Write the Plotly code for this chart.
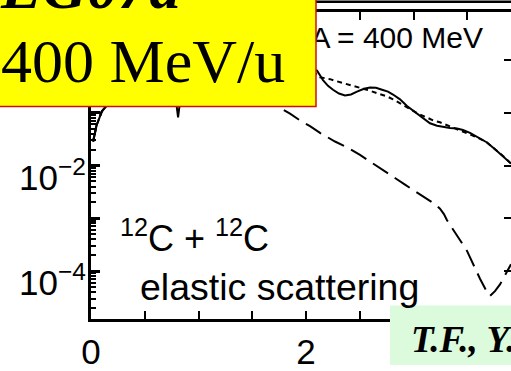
import math
import plotly.graph_objects as go

# ---------------- data ----------------
# scattering angle (deg) and cross sections (log scale)
solid_x = [0.02, 0.05, 0.10, 0.15, 0.20, 0.30, 0.45, 0.60, 0.70, 0.78, 0.81, 0.84,
           0.95, 1.10, 1.30, 1.50, 1.70, 1.90, 2.05,
           2.1023, 2.1581, 2.2047, 2.2512, 2.3070, 2.3628, 2.4186, 2.4744, 2.5395,
           2.5953, 2.6512, 2.7070, 2.7628, 2.8093, 2.8744, 2.9395, 2.9860, 3.0326,
           3.0977, 3.1535, 3.2186, 3.2744, 3.3395, 3.4047, 3.4605, 3.5256, 3.6000,
           3.6837, 3.7581, 3.8326, 3.9070]
solid_y = [0.0285, 0.0562, 0.105, 0.141, 0.398, 1.26, 2.24, 1.58, 0.631, 0.25,
           0.0813, 0.25, 0.794, 1.58, 2.0, 1.78, 1.26, 0.891, 0.708,
           0.631, 0.415, 0.323, 0.273, 0.231, 0.2125, 0.2215, 0.251, 0.2848,
           0.3007, 0.2970, 0.2731, 0.251, 0.2215, 0.1797, 0.1340, 0.1134, 0.0959,
           0.0778, 0.0631, 0.0568, 0.0534, 0.0512, 0.0501, 0.0471, 0.0415, 0.0337,
           0.0273, 0.0204, 0.0152, 0.01088]

dotted_x = [0.02, 0.05, 0.10, 0.15, 0.20, 0.30, 0.45, 0.60, 0.70, 0.78, 0.81, 0.84,
            0.95, 1.10, 1.30, 1.50, 1.70, 1.90, 2.05,
            2.1023, 2.1302, 2.1767, 2.2233, 2.2791, 2.3442, 2.4093, 2.4744, 2.5395,
            2.5953, 2.6698, 2.7535, 2.8093, 2.8744, 2.9209, 2.9674, 3.0419, 3.1256,
            3.1814, 3.2465, 3.3116, 3.3674, 3.4326, 3.4977, 3.6000, 3.6837, 3.7581,
            3.8326, 3.9070]
dotted_y = [0.0285, 0.0562, 0.105, 0.141, 0.398, 1.26, 2.24, 1.58, 0.631, 0.3,
            0.2, 0.3, 0.794, 1.58, 2.0, 1.78, 1.26, 0.891, 0.62,
            0.5337, 0.4708, 0.4515, 0.4329, 0.3981, 0.3662, 0.3368, 0.3097, 0.2848,
            0.2619, 0.2310, 0.2037, 0.1797, 0.1520, 0.1340, 0.1182, 0.0959, 0.0811,
            0.0715, 0.0658, 0.0580, 0.0534, 0.0471, 0.0415, 0.0337, 0.0273, 0.0204,
            0.0152, 0.01088]

dashed_x = [0.02, 0.05, 0.10, 0.15, 0.20, 0.30, 0.45, 0.60, 0.70, 0.78, 0.81, 0.85,
            0.95, 1.10, 1.30, 1.50, 1.65,
            1.7302, 1.8512, 1.9442, 2.0372, 2.1302, 2.2698, 2.3814, 2.5023, 2.6140,
            2.7163, 2.8279, 2.9209, 3.0326, 3.1349, 3.2000, 3.2465, 3.2830, 3.3116,
            3.4047, 3.4977, 3.6186, 3.6744, 3.7116, 3.7581, 3.8047, 3.8512, 3.9070]
dashed_y = [0.0285, 0.0562, 0.105, 0.141, 0.398, 1.26, 2.0, 1.26, 0.5, 0.2,
            0.16, 0.3, 0.8, 1.2, 1.0, 0.5, 0.22,
            0.1340, 0.0959, 0.0715, 0.0557, 0.0415, 0.0285, 0.0222, 0.01585, 0.01134,
            0.00811, 0.00580, 0.00433, 0.00310, 0.00222, 0.00185, 0.00152, 0.00120,
            0.000920, 0.000471, 0.000241, 0.0000715, 0.0000433, 0.0000337,
            0.0000415, 0.0000557, 0.0000811, 0.000134]

x_labelvals = [0, 2]
x_labeltext = ["0", "2"]
x_longvals = [1, 3]
x_minor = [0.5, 1.5, 2.5, 3.5]
y_labelvals = [1e-4, 1e-2]
y_labeltext = ["10<sup>\u22124</sup>", "10<sup>\u22122</sup>"]
y_majorvals = [1e-5, 1e-4, 1e-3, 1e-2, 1e-1, 1e0, 1e1]
energy_label = "E/A = 400 MeV"

# ---------------- geometry helpers ----------------
W, H = 511, 371
L, R, T, B = 91, 0, 12, 39
PW, PH = W - L - R, H - T - B
XR = [0, 3.907]
YR = [-4.909, 0.909]


def px(x):
    return (x - L) / PW


def py(y):
    return (H - B - y) / PH


def data_x(p):
    return XR[0] + (p - L) / PW * (XR[1] - XR[0])


def data_y(p):
    return 10 ** (YR[0] + (H - B - p) / PH * (YR[1] - YR[0]))


y_minor = [m * 10.0 ** e for e in range(-6, 2) for m in range(2, 10)]

fig = go.Figure()
fig.add_trace(go.Scatter(x=dashed_x, y=dashed_y, mode="lines",
                         line=dict(color="black", width=2, dash="18px,8px")))
fig.add_trace(go.Scatter(x=dotted_x, y=dotted_y, mode="lines",
                         line=dict(color="black", width=2, dash="5px,4px")))
fig.add_trace(go.Scatter(x=solid_x, y=solid_y, mode="lines",
                         line=dict(color="black", width=2)))
# energy label lives under the yellow box (traces are drawn below shapes)
fig.add_trace(go.Scatter(x=[data_x(483)], y=[data_y(42)], mode="text", text=[energy_label],
                         textposition="middle left", hoverinfo="skip",
                         textfont=dict(family="Liberation Sans, Arial, sans-serif", size=30,
                                       color="black")))
# carriers for the extra tick axes
for xa, ya in (("x", "y2"), ("x2", "y")):
    fig.add_trace(go.Scatter(x=[1], y=[1e-3], xaxis=xa, yaxis=ya, mode="lines",
                             line=dict(width=0), hoverinfo="skip"))

sans = "Liberation Sans, Arial, sans-serif"
serif = "Liberation Serif, Times New Roman, serif"
axis_font = dict(family=sans, size=35, color="black")

fig.update_layout(
    width=W, height=H,
    margin=dict(l=L, r=R, t=T, b=B, pad=0),
    paper_bgcolor="white", plot_bgcolor="white",
    showlegend=False,
    xaxis=dict(range=XR, showgrid=False, zeroline=False,
               showline=True, linecolor="black", linewidth=2.5, mirror="allticks",
               tickmode="array", tickvals=x_labelvals, ticktext=x_labeltext,
               ticks="inside", ticklen=8, tickwidth=2, tickcolor="black",
               minor=dict(tickmode="array", tickvals=x_minor, ticks="inside", ticklen=5,
                          tickwidth=2, tickcolor="black"),
               tickfont=axis_font),
    xaxis2=dict(range=XR, overlaying="x", anchor="y", side="bottom",
                showgrid=False, zeroline=False, showticklabels=False,
                showline=True, linecolor="black", linewidth=2.5, mirror="allticks",
                tickmode="array", tickvals=x_longvals, ticks="inside", ticklen=8,
                tickwidth=2, tickcolor="black"),
    yaxis=dict(type="log", range=YR, showgrid=False, zeroline=False,
               showline=True, linecolor="black", linewidth=2.5, mirror=False,
               showticklabels=False,
               tickmode="array", tickvals=y_majorvals,
               ticks="inside", ticklen=9, tickwidth=3, tickcolor="black",
               minor=dict(tickmode="array", tickvals=y_minor, ticks="inside", ticklen=5,
                          tickwidth=1.5, tickcolor="black")),
    yaxis2=dict(type="log", range=YR, overlaying="y", side="right", anchor="x",
                showgrid=False, zeroline=False, showline=False, showticklabels=False,
                tickmode="array", tickvals=y_majorvals, ticks="inside", ticklen=7,
                tickwidth=2, tickcolor="black"),
)

shapes = [
    # outer frame line at the very top
    dict(type="line", xref="paper", yref="paper", x0=px(300), x1=px(520), y0=py(1.2), y1=py(1.2),
         line=dict(color="black", width=2.5), layer="above"),
    # yellow title box
    dict(type="rect", xref="paper", yref="paper", x0=px(-5), x1=px(316), y0=py(110.5), y1=py(-5),
         fillcolor="#ffff00", line=dict(color="#cc1010", width=1.5), layer="above"),
    # green credit box
    dict(type="rect", xref="paper", yref="paper", x0=px(390), x1=px(530), y0=py(380), y1=py(318),
         fillcolor="#dcfadc", line=dict(width=0), layer="above"),
]
fig.update_layout(shapes=shapes)

ann = []
# y tick labels, placed on the log axis at their decade values
for v, t in zip(y_labelvals, y_labeltext):
    ann.append(dict(text=t, x=px(88), xref="paper", y=math.log10(v), yref="y",
                    xanchor="right", yanchor="middle", yshift=-9, font=axis_font))
ann += [
    dict(text="<sup>12</sup>C + <sup>12</sup>C", x=px(118), y=py(246), xanchor="left", yanchor="middle",
         font=dict(family=sans, size=36, color="black")),
    dict(text="elastic scattering", x=px(138), y=py(299), xanchor="left", yanchor="middle",
         font=dict(family=sans, size=37.5, color="black")),
    dict(text="<b><i>EG07a</i></b>", x=px(-2), y=py(-14), xanchor="left", yanchor="middle",
         font=dict(family=serif, size=62, color="black")),
    dict(text="400 MeV/u", x=px(-1), y=py(63), xanchor="left", yanchor="middle",
         font=dict(family=serif, size=62, color="black")),
    dict(text="<b><i>T.F., Y.</i></b>", x=px(409), y=py(353), xanchor="left", yanchor="middle",
         font=dict(family=serif, size=37, color="black")),
]
for a in ann:
    a.setdefault("xref", "paper")
    a.setdefault("yref", "paper")
    a["showarrow"] = False
fig.update_layout(annotations=ann)

fig.write_html("out.html")
